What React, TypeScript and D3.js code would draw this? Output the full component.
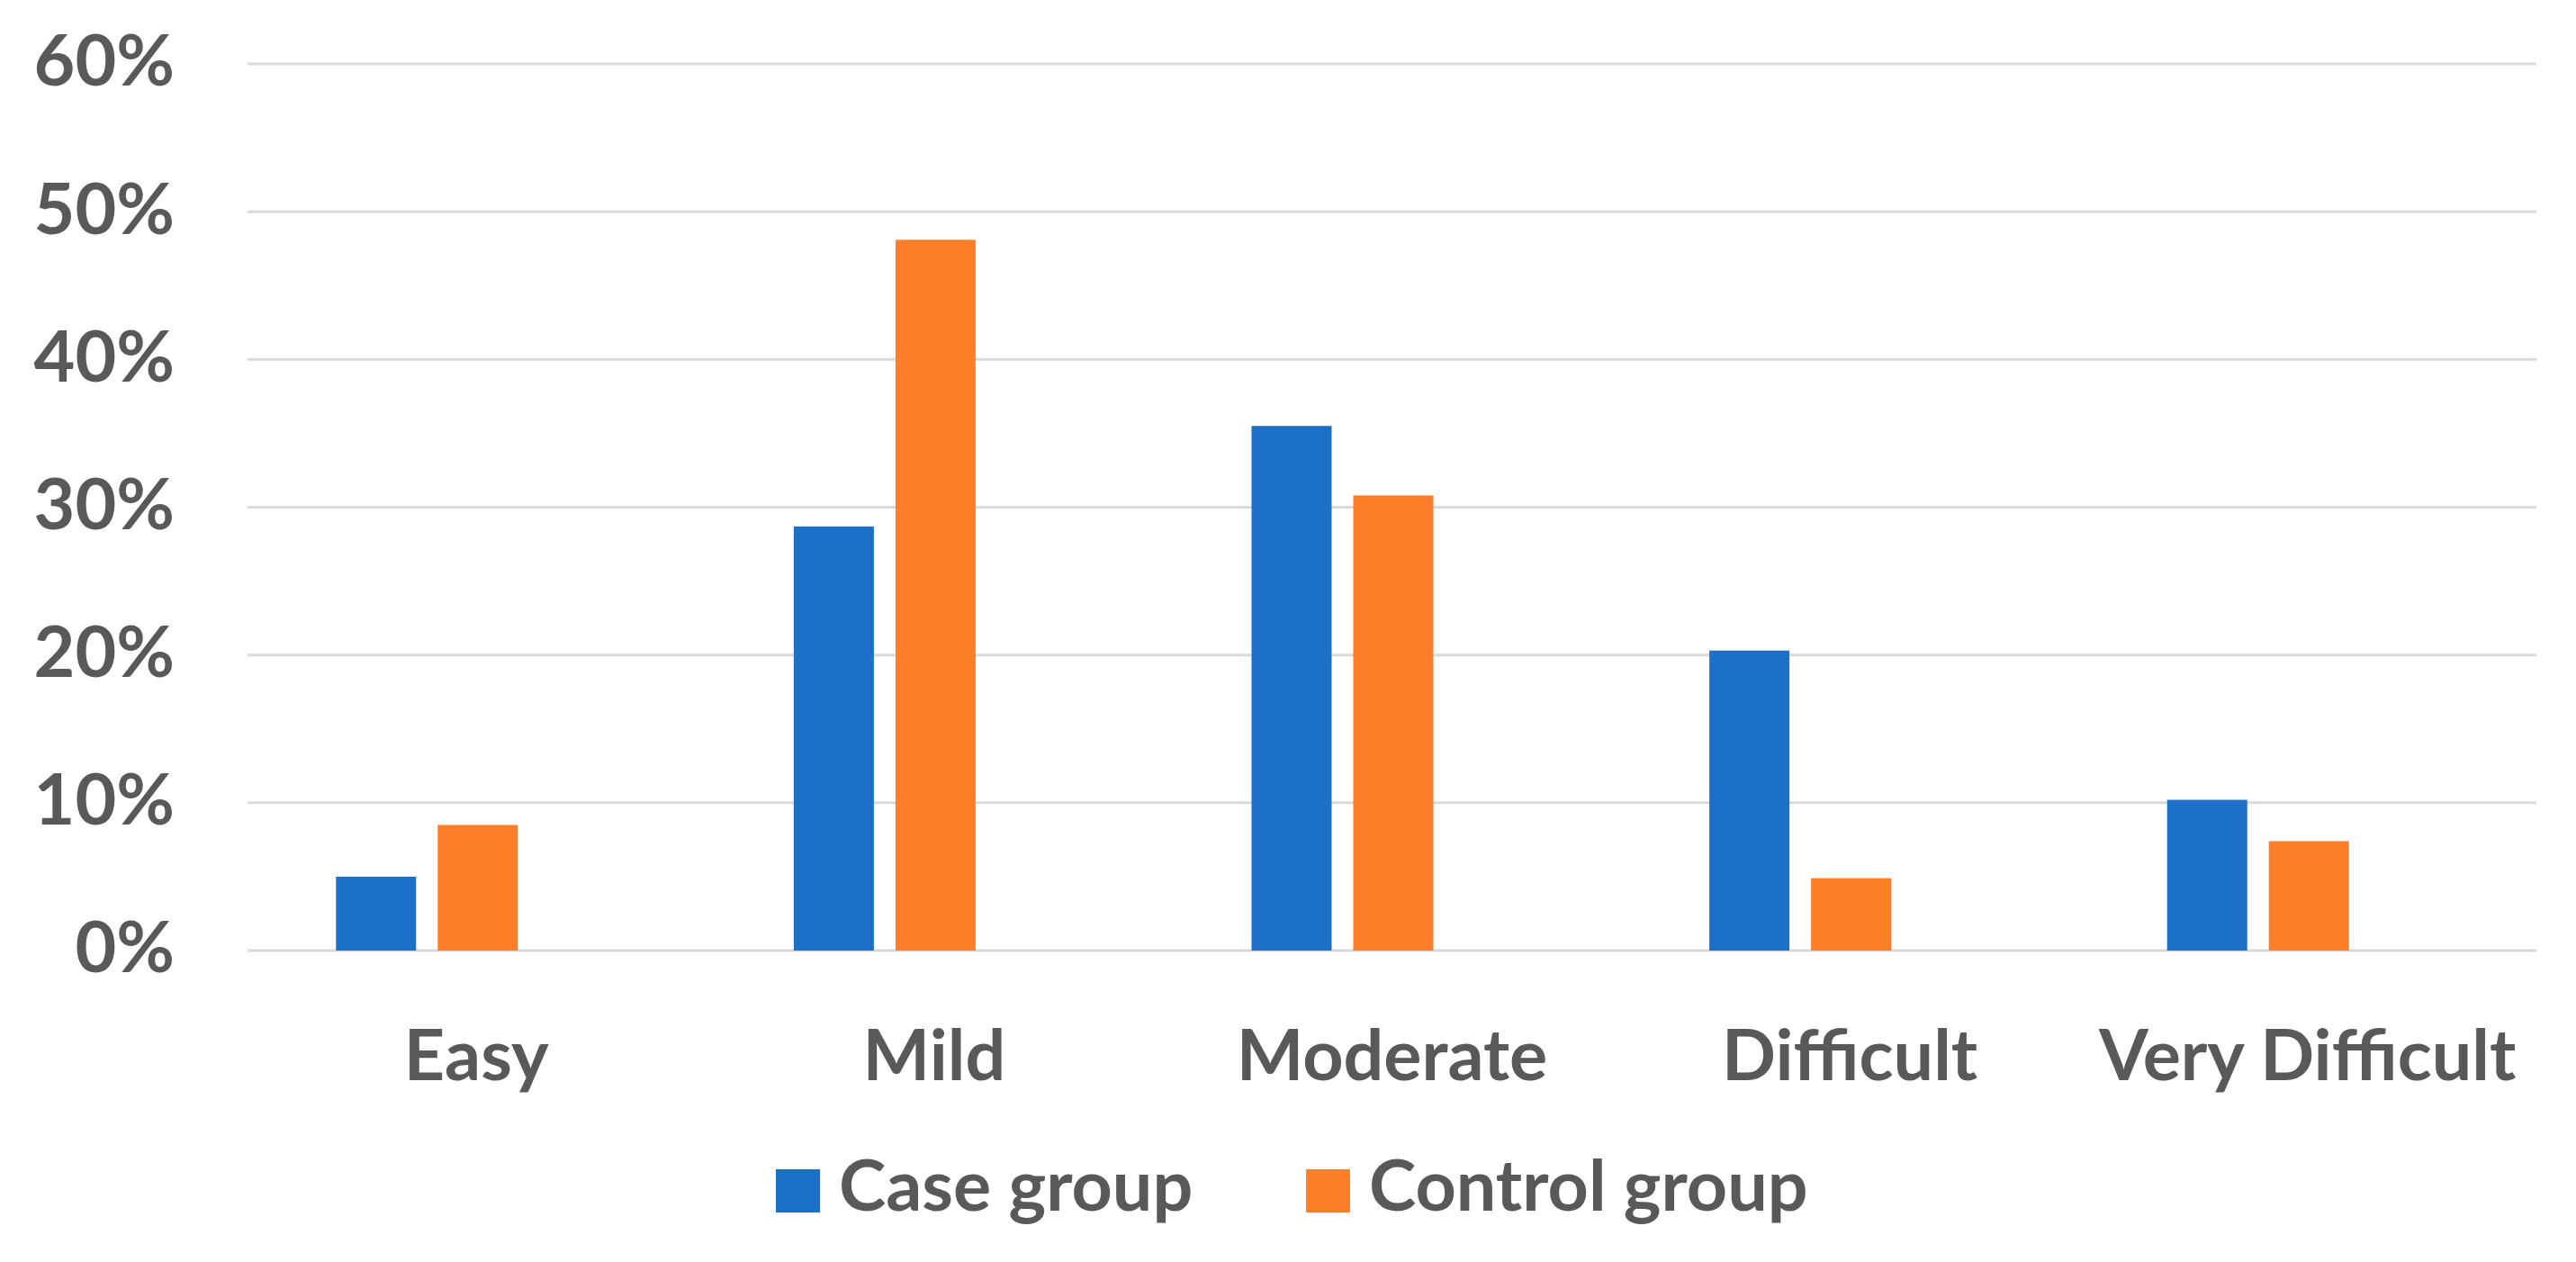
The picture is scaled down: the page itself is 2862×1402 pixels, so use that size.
import React, { useEffect } from "react";
import * as d3 from "d3";

// ── Data ────────────────────────────────────────────────────────────────
const categories = ["Easy", "Mild", "Moderate", "Difficult", "Very Difficult"];
const seriesNames = ["Case group", "Control group"];
const caseGroup = [5.0, 28.7, 35.5, 20.3, 10.2];
const controlGroup = [8.5, 48.1, 30.8, 4.9, 7.4];
const yTicks = [0, 10, 20, 30, 40, 50, 60];

const COLORS = ["#1c70c8", "#fe7f2a"];
const TEXT = "#595959";
const GRID = "#d9d9d9";
const FONT = "Lato, 'Noto Sans', sans-serif";

const WIDTH = 2862;
const HEIGHT = 1402;
const PLOT = { left: 275, right: 2818, top: 71, bottom: 1056 };

const App: React.FC = () => {
    useEffect(() => {
        document.body.style.margin = "0";
    }, []);

    // ── Escalas ────────────────────────────────────────────────────────
    const x = d3.scaleBand<string>().domain(categories).range([PLOT.left, PLOT.right]);
    const y = d3.scaleLinear().domain([0, 60]).range([PLOT.bottom, PLOT.top]);

    // bars sit a little left of the category centre, as in the source
    const groupLeft = x.bandwidth() / 2 - 156;
    const x1 = d3
        .scaleBand<string>()
        .domain(seriesNames)
        .range([groupLeft, groupLeft + 202])
        .paddingInner(24 / 113);

    const values = [caseGroup, controlGroup];

    const legendX = [862, 1451];

    return (
        <svg width={WIDTH} height={HEIGHT} viewBox={`0 0 ${WIDTH} ${HEIGHT}`} style={{ display: "block", background: "#fff" }}>
            {/* grid */}
            <g>
                {yTicks.map((t) => (
                    <line key={t} x1={PLOT.left} x2={PLOT.right} y1={y(t)} y2={y(t)} stroke={GRID} strokeWidth={3} />
                ))}
            </g>

            {/* y labels */}
            <g fontFamily={FONT} fontWeight={700} fontSize={79} fill={TEXT} textAnchor="end">
                {yTicks.map((t) => (
                    <text key={t} x={194} y={y(t)} dy="0.31em">
                        {`${t}%`}
                    </text>
                ))}
            </g>

            {/* bars */}
            {categories.map((c, i) => (
                <g key={c} transform={`translate(${x(c)},0)`}>
                    {seriesNames.map((s, j) => (
                        <rect
                            key={s}
                            x={x1(s)}
                            y={y(values[j][i])}
                            width={x1.bandwidth()}
                            height={y(0) - y(values[j][i])}
                            fill={COLORS[j]}
                        />
                    ))}
                </g>
            ))}

            {/* x labels */}
            <g fontFamily={FONT} fontWeight={700} fontSize={79} fill={TEXT} textAnchor="middle">
                {categories.map((c) => (
                    <text key={c} x={(x(c) ?? 0) + x.bandwidth() / 2} y={1200}>
                        {c}
                    </text>
                ))}
            </g>

            {/* legend */}
            <g fontFamily={FONT} fontWeight={700} fontSize={79} fill={TEXT}>
                {seriesNames.map((s, j) => (
                    <g key={s} transform={`translate(${legendX[j]},1299)`}>
                        <rect width={49} height={48} fill={COLORS[j]} />
                        <text x={70} y={46}>
                            {s}
                        </text>
                    </g>
                ))}
            </g>
        </svg>
    );
};

export default App;
